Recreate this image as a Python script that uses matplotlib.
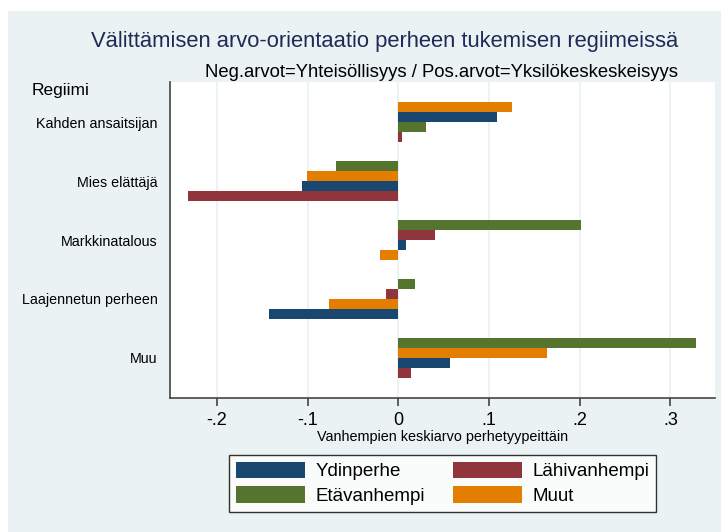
import matplotlib
matplotlib.use("Agg")
import matplotlib.pyplot as plt
from matplotlib.patches import Rectangle, Patch
import numpy as np

plt.rcParams['font.family'] = ['Liberation Sans', 'DejaVu Sans']

categories = ["Kahden ansaitsijan", "Mies elättäjä", "Markkinatalous",
              "Laajennetun perheen", "Muu"]
series_names = ["Ydinperhe", "Lähivanhempi", "Etävanhempi", "Muut"]
ydinperhe = [0.109, -0.106, 0.009, -0.142, 0.057]
lahivanhempi = [0.004, -0.232, 0.041, -0.013, 0.014]
etavanhempi = [0.031, -0.069, 0.201, 0.018, 0.328]
muut = [0.125, -0.101, -0.020, -0.076, 0.164]
colors = ["#1a476f", "#90353b", "#55752f", "#e37e00"]
xticks = [-0.2, -0.1, 0, 0.1, 0.2, 0.3]
xticklabels = ["-.2", "-.1", "0", ".1", ".2", ".3"]

W, H = 721, 532
fig = plt.figure(figsize=(W / 100, H / 100), dpi=100)
fig.patch.set_facecolor("white")
fig.patches.append(Rectangle((8 / W, 0), 1, 1 - 11 / H, transform=fig.transFigure,
                             facecolor="#EAF2F3", edgecolor="none", zorder=-10))

ax = fig.add_axes([170 / W, 1 - 398 / H, 545 / W, 316 / H])
ax.set_facecolor("white")

values = np.array([ydinperhe, lahivanhempi, etavanhempi, muut])
h = 0.1695
for gi in range(len(categories)):
    order = np.argsort(-values[:, gi], kind="stable")
    for slot, si in enumerate(order):
        y = gi + (slot - 1.5) * h
        ax.barh(y, values[si, gi], height=h, color=colors[si], linewidth=0, zorder=3)

ax.set_xlim(-0.2517, 0.3492)
ax.set_ylim(len(categories) - 1 + 0.68, -0.68)
ax.set_xticks(xticks)
ax.set_xticklabels(xticklabels, fontsize=13)
ax.set_yticks(range(len(categories)))
ax.set_yticklabels(categories, fontsize=10.3)
ax.tick_params(axis="y", length=0, pad=9)
ax.tick_params(axis="x", length=6, width=1.2, color="#444444", pad=4)
ax.grid(axis="x", color="#EAF2F3", linewidth=1.3, zorder=0)
for s in ["top", "right"]:
    ax.spines[s].set_visible(False)
for s in ["left", "bottom"]:
    ax.spines[s].set_color("#444444")
    ax.spines[s].set_linewidth(1.2)
ax.set_xlabel("Vanhempien keskiarvo perhetyypeittäin", fontsize=10.4, labelpad=1)

fig.text(678 / W, 1 - 47 / H, "Välittämisen arvo-orientaatio perheen tukemisen regiimeissä",
         ha="right", va="baseline", fontsize=15.8, color="#1e2b57")
fig.text(678 / W, 1 - 77 / H, "Neg.arvot=Yhteisöllisyys / Pos.arvot=Yksilökeskeskeisyys",
         ha="right", va="baseline", fontsize=13.35, color="black")
fig.text(32 / W, 1 - 95 / H, "Regiimi", ha="left", va="baseline", fontsize=12.5)

handles = [Patch(facecolor=c, edgecolor="none") for c in colors]
leg_order = [0, 2, 1, 3]
leg = fig.legend([handles[i] for i in leg_order], [series_names[i] for i in leg_order],
                 ncol=2, loc="upper left", bbox_to_anchor=(229 / W, 1 - 455 / H),
                 borderaxespad=0, fontsize=13.5, frameon=True, fancybox=False,
                 edgecolor="black", handlelength=3.7, handleheight=0.97,
                 handletextpad=0.58, columnspacing=1.45, labelspacing=0.33,
                 borderpad=0.35)
leg.get_frame().set_linewidth(1.0)

fig.savefig("out.png", dpi=100)
